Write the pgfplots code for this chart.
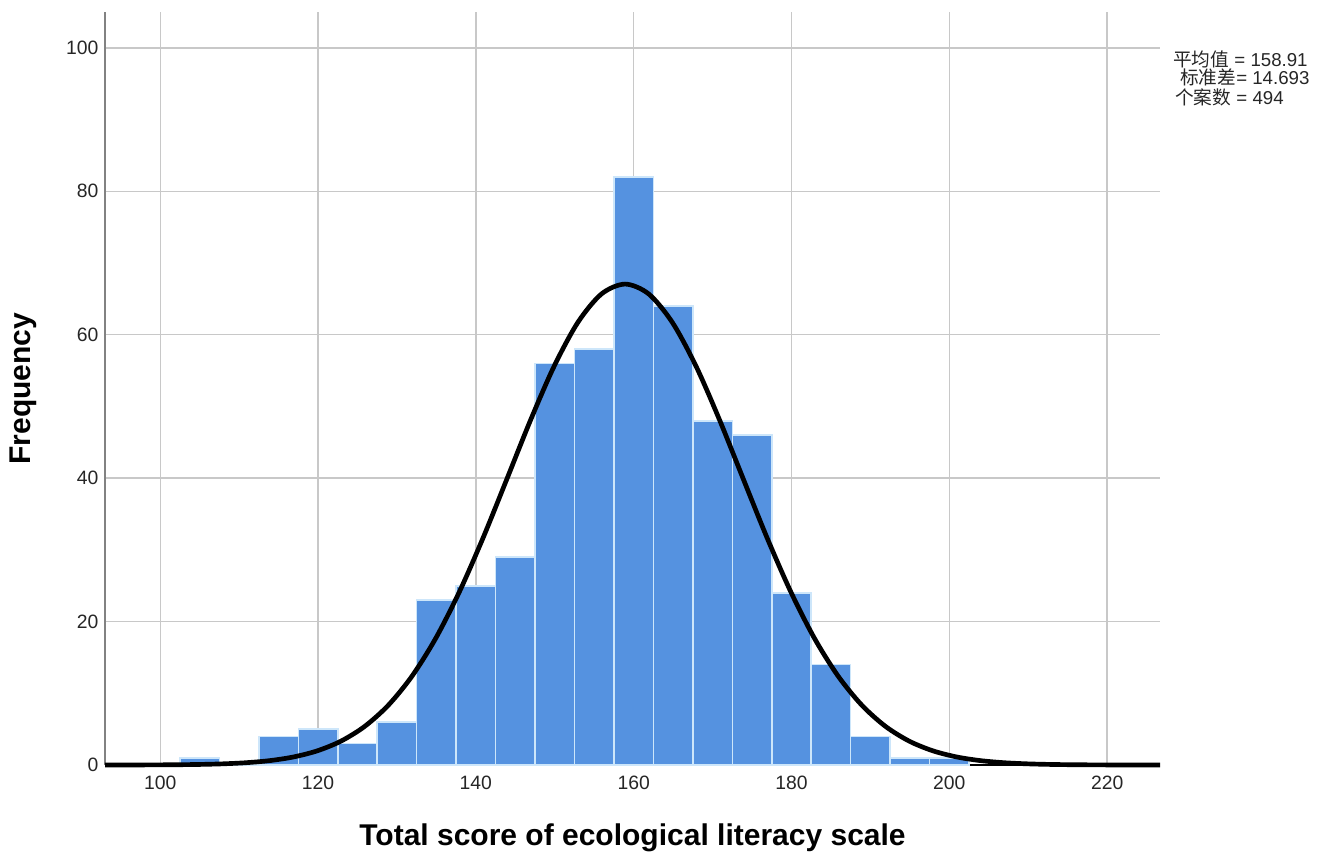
\documentclass[border=0pt]{standalone}
\usepackage{fontspec}
\setmainfont{Liberation Sans}
\newfontfamily\cjk{Noto Sans CJK SC}
\usepackage{pgfplots}
\pgfplotsset{compat=1.18}
\definecolor{barblue}{RGB}{85,146,224}
\definecolor{barsep}{RGB}{205,230,250}
\definecolor{gridgray}{RGB}{200,200,200}
\definecolor{axisgray}{RGB}{130,130,130}
\begin{document}
\begin{tikzpicture}[x=0.75pt,y=0.75pt]
\path[use as bounding box] (0,0) rectangle (1330,861);
\begin{axis}[
  at={(78.75pt,72pt)}, anchor=south west,
  scale only axis, width=791.25pt, height=564.75pt,
  xmin=93, xmax=226.7, ymin=0, ymax=105,
  xtick={100,120,...,220}, ytick={0,20,...,100},
  grid=major, grid style={gridgray, line width=1pt},
  major tick length=0pt,
  axis x line*=bottom, axis y line*=left,
  x axis line style={black, line width=1pt},
  y axis line style={axisgray, line width=1.5pt},
  clip=false,
  /pgf/number format/assume math mode=true,
  ticklabel style={font=\fontsize{14.5}{16}\selectfont, text=black!85},
  yticklabel style={xshift=-1.5pt},
  xticklabel style={yshift=-5pt},
  xlabel={Total score of ecological literacy scale},
  xlabel style={font=\bfseries\fontsize{22.5}{26}\selectfont, at={(axis description cs:0.5,0)}, anchor=center, yshift=-54.75pt},
  ylabel={Frequency},
  ylabel style={font=\bfseries\fontsize{22.5}{26}\selectfont, at={(axis description cs:-0.0773,0.5)}, anchor=center},
]
\addplot[ybar interval, fill=barblue, draw=barsep, line width=1.2pt] coordinates {
(102.5,1) (107.5,0) (112.5,4) (117.5,5) (122.5,3) (127.5,6) (132.5,23) (137.5,25)
(142.5,29) (147.5,56) (152.5,58) (157.5,82) (162.5,64) (167.5,48) (172.5,46)
(177.5,24) (182.5,14) (187.5,4) (192.5,1) (197.5,1) (202.5,1)
};
\addplot[black, line width=3.5pt, smooth, line cap=butt] coordinates {
(93,0.0025) (95.91,0.0068) (98.91,0.016) (101.91,0.036) (104.91,0.078) (107.91,0.162)
(110.91,0.323) (113.91,0.616) (116.91,1.128) (119.91,1.980) (122.91,3.333)
(125.91,5.384) (128.91,8.342) (131.91,12.394) (134.91,17.664) (137.91,24.148)
(140.91,31.664) (143.91,39.824) (146.91,48.040) (149.91,55.589) (152.91,61.695)
(155.91,65.677) (158.91,67.060) (161.91,65.677) (164.91,61.695) (167.91,55.589)
(170.91,48.040) (173.91,39.824) (176.91,31.664) (179.91,24.148) (182.91,17.664)
(185.91,12.394) (188.91,8.342) (191.91,5.384) (194.91,3.333) (197.91,1.980)
(200.91,1.128) (203.91,0.616) (206.91,0.323) (209.91,0.162) (212.91,0.078)
(215.91,0.036) (218.91,0.016) (221.91,0.0068) (224.91,0.0028) (226.7,0.0015)
};
\end{axis}
\begin{scope}[every node/.style={anchor=west, inner sep=0pt, font=\fontsize{14}{16}\selectfont, text=black!85}]
\node at (1173,802) {{\cjk 平均值} = 158.91};
\node at (1180,784) {{\cjk 标准差}= 14.693};
\node at (1175,764) {{\cjk 个案数} = 494};
\end{scope}
\end{tikzpicture}
\end{document}
